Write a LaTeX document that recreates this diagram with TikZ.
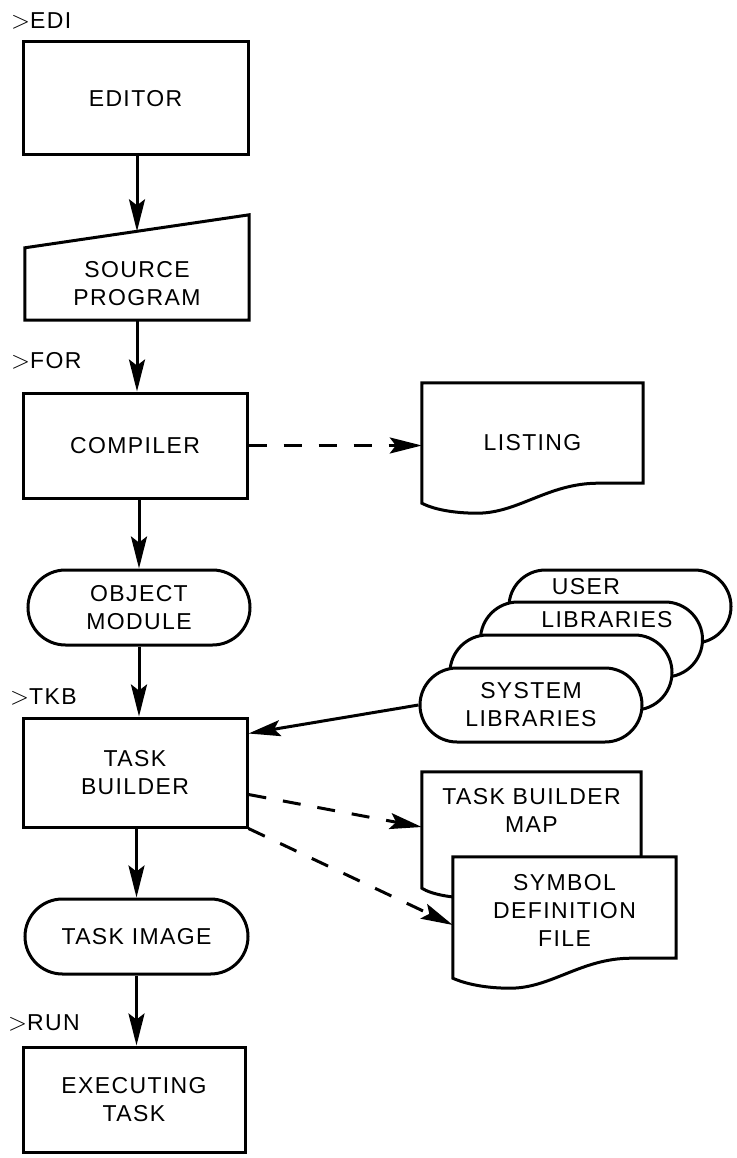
\documentclass[tikz,border=0pt]{standalone}
\usepackage{fontspec}
\setmainfont{Liberation Sans}[LetterSpace=6]
\usetikzlibrary{arrows.meta,shapes.misc,calc,backgrounds}
\newcommand\docoutline[2]{%
\draw[docline] (#1.north west) -- (#1.north east) -- ([yshift=#2]#1.south east)
  -- ([xshift=-45pt,yshift=#2]#1.south east)
  .. controls ([xshift=-95pt,yshift=#2]#1.south east) and ([xshift=-125pt,yshift=#2-30pt]#1.south east)
  .. ([xshift=-166pt,yshift=#2-30pt]#1.south east)
  .. controls ([xshift=-190pt,yshift=#2-30pt]#1.south east) and ([xshift=-210pt,yshift=#2-26pt]#1.south east)
  .. ([yshift=#2-20pt]#1.south west) -- cycle;}
\newcommand\gtsym{{\fontsize{27}{28}\selectfont$>$}}
\begin{document}
\begin{tikzpicture}[x=1pt,y=-1pt,
  every node/.style={font=\fontsize{23}{28}\selectfont, align=center, inner sep=0pt},
  proc/.style={draw, line width=3pt, rectangle, minimum width=224pt, minimum height=108pt},
  term/.style={draw, line width=3pt, rounded rectangle, minimum width=222pt, minimum height=75pt},
  docline/.style={draw, line width=3pt, fill=white, line join=miter},
  shapeline/.style={draw, line width=3pt},
  flow/.style={line width=3pt, -{Stealth[length=32pt,width=16pt,inset=6pt]}},
  dflow/.style={flow, dash pattern=on 18pt off 17pt},
  cmd/.style={anchor=west}]
\useasboundingbox (0,0) rectangle (736,1158);

% left column
\node[cmd] (edi) at (11,21) {\gtsym EDI};
\node[proc, minimum width=225pt, minimum height=113pt] (editor) at (135.5,98.5) {EDITOR};

\node[minimum width=224pt, minimum height=72pt] (src) at (137,284) {SOURCE\\PROGRAM};
\draw[shapeline] (src.north west) -- ([yshift=33pt]src.north east) -- (src.south east) -- (src.south west) -- cycle;
\coordinate (srctop) at ($(src.north west)!0.5!([yshift=33pt]src.north east)$);

\node[cmd] (for) at (11,361) {\gtsym FOR};
\node[proc, minimum height=105pt] (comp) at (135,445.5) {COMPILER};

\node[term] (obj) at (139,607.5) {OBJECT\\MODULE};

\node[cmd] (tkb) at (10,697) {\gtsym TKB};
\node[proc, minimum height=109pt] (tb) at (135,772.5) {TASK\\BUILDER};

\node[term, minimum width=223pt] (img) at (136.5,936.5) {TASK IMAGE};

\node[cmd] (run) at (8,1023) {\gtsym RUN};
\node[proc, minimum width=222pt, minimum height=105pt] (exe) at (134,1099.5) {EXECUTING\\TASK};

% listing
\node[minimum width=221pt, minimum height=120pt] (lst) at (532.5,443) {LISTING};
\begin{scope}[on background layer]
\docoutline{lst}{20pt}
\end{scope}

% library stack
\node[term, fill=white, minimum height=73pt] (lib4) at (620,606.5) {};
\node[term, fill=white, minimum height=75pt] (lib3) at (591.5,639.5) {};
\node[term, fill=white, minimum height=75pt] (lib2) at (561,672.5) {};
\node[term, fill=white, minimum height=74pt] (sys) at (531,705) {SYSTEM\\LIBRARIES};
\node (usera) at (586,587) {USER};
\node (userb) at (607,620) {LIBRARIES};

% task builder map and symbol file
\node[minimum width=219pt, minimum height=76pt] (map) at (531.5,810) {TASK BUILDER\\MAP};
\node[minimum width=223pt, minimum height=106pt] (sym) at (564.5,910) {SYMBOL\\DEFINITION\\FILE};
\begin{scope}[on background layer]
\docoutline{map}{-20pt}
\docoutline{sym}{5pt}
\end{scope}

% connectors
\draw[flow] (editor.south -| srctop) -- (srctop);
\draw[flow] (src.south) -- (src.south |- comp.north);
\draw[flow] (comp.south -| obj.north) -- (obj.north);
\draw[flow] (obj.south) -- (obj.south |- tb.north);
\draw[flow] (tb.south -| img.north) -- (img.north);
\draw[flow] (img.south) -- (img.south |- exe.north);
\draw[dflow] (comp.east) -- (comp.east -| lst.west);
\draw[flow] (sys.west) -- ([yshift=39pt]tb.east);
\draw[dflow] ([yshift=-22pt]tb.east) -- ([yshift=-17pt]map.west);
\draw[dflow] (tb.south east) -- ([yshift=-15pt]sym.west);
\end{tikzpicture}
\end{document}
